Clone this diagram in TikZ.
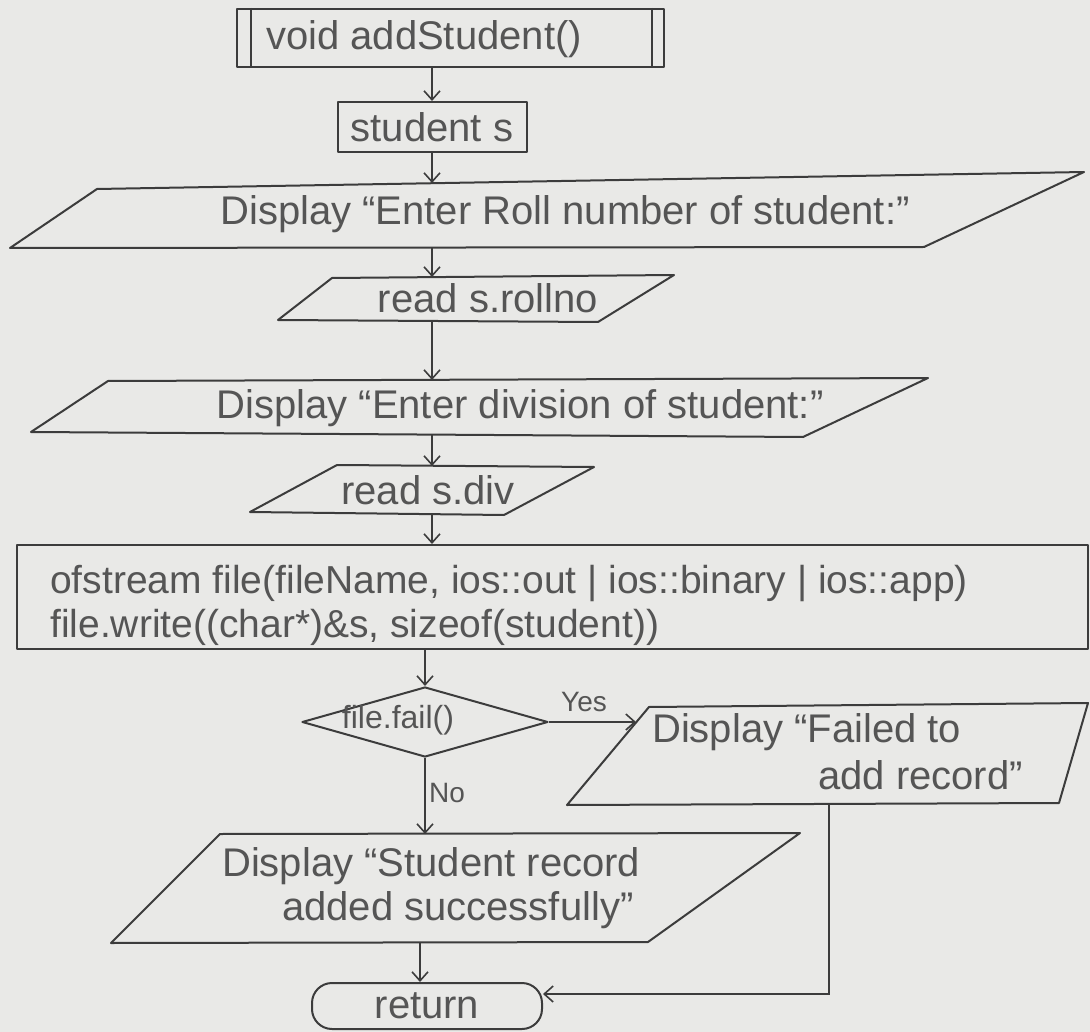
\documentclass[tikz,border=0pt]{standalone}
\usepackage{fontspec}
\setmainfont{Liberation Sans}
\usetikzlibrary{shapes.geometric,arrows.meta}
\definecolor{paper}{HTML}{E9E9E7}
\definecolor{ink}{HTML}{3C3C3C}
\definecolor{pencil}{HTML}{555555}
\begin{document}
\begin{tikzpicture}[x=1pt,y=-1pt,
  outline/.style={draw=ink, line width=2pt, line join=round},
  flow/.style={draw=ink, line width=1.6pt,
    -{Straight Barb[length=9pt,width=16pt,line width=1.6pt]}},
  txt/.style={text=pencil, font=\fontsize{40}{46}\selectfont, inner sep=0pt},
  codetxt/.style={text=pencil, font=\fontsize{39}{45}\selectfont, inner sep=0pt},
  lbl/.style={text=pencil, font=\fontsize{28}{32}\selectfont, inner sep=0pt}
]
% paper
\path[fill=paper] (0,0) rectangle (1090,1032);
\useasboundingbox (0,0) rectangle (1090,1032);

% function header (predefined process)
\node[outline, minimum width=427pt, minimum height=58pt, inner sep=0pt] (start) at (450,38) {};
\draw[outline] ([xshift=15pt]start.north west) -- ([xshift=15pt]start.south west);
\draw[outline] ([xshift=-13pt]start.north east) -- ([xshift=-13pt]start.south east);
\node[txt] (startlbl) at (424,39) {void addStudent()};

% declaration
\node[outline, txt, minimum width=189pt, minimum height=50pt] (decl) at (432,127) {student s};

% prompt for roll number
\draw[outline] (97,189) -- (1084,172) -- (924,247) -- (10,248) -- cycle;
\coordinate (in1n) at (432,183);
\coordinate (in1s) at (432,248);
\node[txt] (in1) at (565,214) {Display “Enter Roll number of student:”};

% read roll number
\draw[outline] (332,278) -- (674,275) -- (598,322) -- (278,320) -- cycle;
\coordinate (rd1n) at (432,277);
\coordinate (rd1s) at (432,321);
\node[txt] (rd1) at (488,298) {read s.rollno};

% prompt for division
\draw[outline] (108,381) -- (928,378) -- (803,437) -- (31,432) -- cycle;
\coordinate (in2n) at (432,380);
\coordinate (in2s) at (432,435);
\node[txt] (in2) at (520,408) {Display “Enter division of student:”};

% read division
\draw[outline] (337,465) -- (594,467) -- (504,515) -- (250,512) -- cycle;
\coordinate (rd2n) at (432,466);
\coordinate (rd2s) at (432,514);
\node[txt] (rd2) at (428,490) {read s.div};

% write record to file
\node[outline, minimum width=1071pt, minimum height=104pt, inner sep=0pt] (proc) at (552.5,597) {};
\node[codetxt, anchor=base west] (proc1) at (50,593) {ofstream file(fileName, ios::out | ios::binary | ios::app)};
\node[codetxt, anchor=base west] (proc2) at (50,637) {file.write((char*)\&s, sizeof(student))};

% decision
\node[outline, diamond, minimum width=246pt, minimum height=70pt, inner sep=0pt] (dec) at (425,722) {};
\node[txt, font=\fontsize{32}{36}\selectfont] (declbl) at (398,720) {file.fail()};

% failure message
\draw[outline] (649,707) -- (1088,703) -- (1059,803) -- (567,805) -- cycle;
\coordinate (failw) at (636,722);
\coordinate (fails) at (829,804);
\node[txt, anchor=base west] (fail1) at (652,742) {Display “Failed to};
\node[txt, anchor=base west] (fail2) at (818,789) {add record”};

% success message
\draw[outline] (220,834) -- (800,833) -- (648,942) -- (111,943) -- cycle;
\coordinate (succn) at (425,834);
\coordinate (succs) at (420,943);
\node[txt, anchor=base west] (succ1) at (222,876) {Display “Student record};
\node[txt, anchor=base west] (succ2) at (282,920) {added successfully”};

% terminator
\node[outline, txt, rounded corners=20pt, minimum width=230pt, minimum height=46pt] (ret) at (427,1006) {return};

% connectors
\draw[flow] (start.south -| decl.north) -- (decl.north);
\draw[flow] (decl.south) -- (in1n);
\draw[flow] (in1s) -- (rd1n);
\draw[flow] (rd1s) -- (in2n);
\draw[flow] (in2s) -- (rd2n);
\draw[flow] (rd2s) -- (rd2s |- proc.north);
\draw[flow] (proc.south -| dec.north) -- (dec.north);
\draw[flow] (dec.east) -- (failw);
\node[lbl] (yes) at (584,702) {Yes};
\draw[flow] (dec.south) -- (succn);
\node[lbl] (no) at (447,793) {No};
\draw[flow] (succs) -- (succs |- ret.north);
\draw[flow] (fails) |- ([yshift=12pt]ret.east);
\end{tikzpicture}
\end{document}
